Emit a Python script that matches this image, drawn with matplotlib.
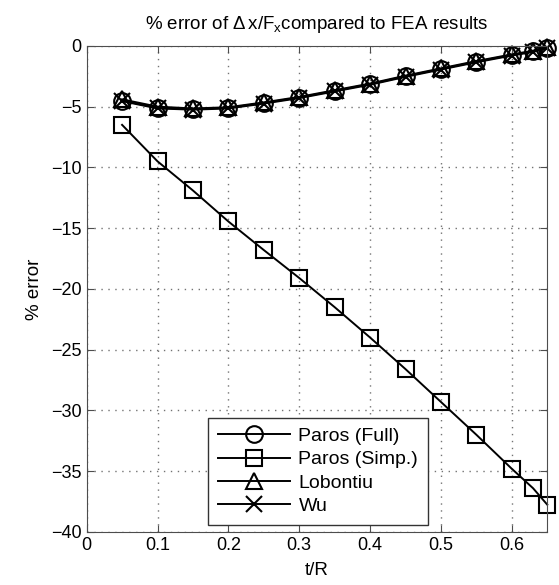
import numpy as np
import matplotlib
matplotlib.use('Agg')
import matplotlib.pyplot as plt

plt.rcParams['font.family'] = ['Liberation Sans', 'DejaVu Sans']
plt.rcParams['mathtext.fontset'] = 'custom'
plt.rcParams['mathtext.rm'] = 'Liberation Sans'
plt.rcParams['mathtext.it'] = 'Liberation Sans:italic'

t_R = [0.05, 0.1, 0.15, 0.2, 0.25, 0.3, 0.35, 0.4, 0.45, 0.5, 0.55, 0.6, 0.63, 0.65]
paros_full = [-4.5, -5.1, -5.2, -5.1, -4.7, -4.25, -3.7, -3.15, -2.5, -1.9, -1.3, -0.75, -0.45, -0.15]
paros_simp = [-6.5, -9.5, -11.9, -14.45, -16.8, -19.1, -21.5, -24.0, -26.6, -29.3, -32.0, -34.8, -36.4, -37.75]
lobontiu = [-4.4, -5.0, -5.15, -5.05, -4.65, -4.2, -3.65, -3.1, -2.45, -1.85, -1.25, -0.7, -0.4, -0.1]
wu = [-4.55, -5.15, -5.25, -5.15, -4.75, -4.3, -3.75, -3.2, -2.55, -1.95, -1.35, -0.8, -0.5, -0.2]

fig = plt.figure(figsize=(5.59, 5.85), dpi=100)
ax = fig.add_axes([0.155, 0.0906, 0.824, 0.831])

ms = 12
style = dict(color='black', mfc='none', mec='black', ms=ms, mew=1.5, lw=1.4, clip_on=False)
ax.plot(t_R, paros_full, '-o', label='Paros (Full)', **style)
ax.plot(t_R, paros_simp, '-s', label='Paros (Simp.)', **style)
ax.plot(t_R, lobontiu, '-^', label='Lobontiu', **style)
ax.plot(t_R, wu, '-x', label='Wu', **style)

ax.set_xlim(0, 0.65)
ax.set_ylim(-40, 0)
ax.set_xticks(np.arange(0, 0.61, 0.1))
ax.set_xticklabels(['0', '0.1', '0.2', '0.3', '0.4', '0.5', '0.6'])
ax.set_yticks(np.arange(-40, 1, 5))
ax.tick_params(direction='in', labelsize=13, top=True, right=True, length=5, color='0.3')
for s in ax.spines.values():
    s.set_color('0.3')
ax.grid(True, linestyle=(0, (1, 4)), color='0.45', linewidth=1.0)
ax.set_axisbelow(True)
ax.set_xlabel('t/R', fontsize=13.5, labelpad=6)
ax.set_ylabel('% error', fontsize=13.5, labelpad=6)
ax.set_title(r'% error of $\Delta\,$x/F$_{\mathrm{x}}$compared to FEA results', fontsize=13.5, pad=12)

leg = ax.legend(loc='lower right', bbox_to_anchor=(0.741, 0.0144), borderaxespad=0, fontsize=14,
                fancybox=False, edgecolor='0.2', framealpha=1, handlelength=3.7, borderpad=0.5,
                labelspacing=0.3, handletextpad=0.45)
leg.get_frame().set_linewidth(1.0)

fig.savefig('out.png', dpi=100)
